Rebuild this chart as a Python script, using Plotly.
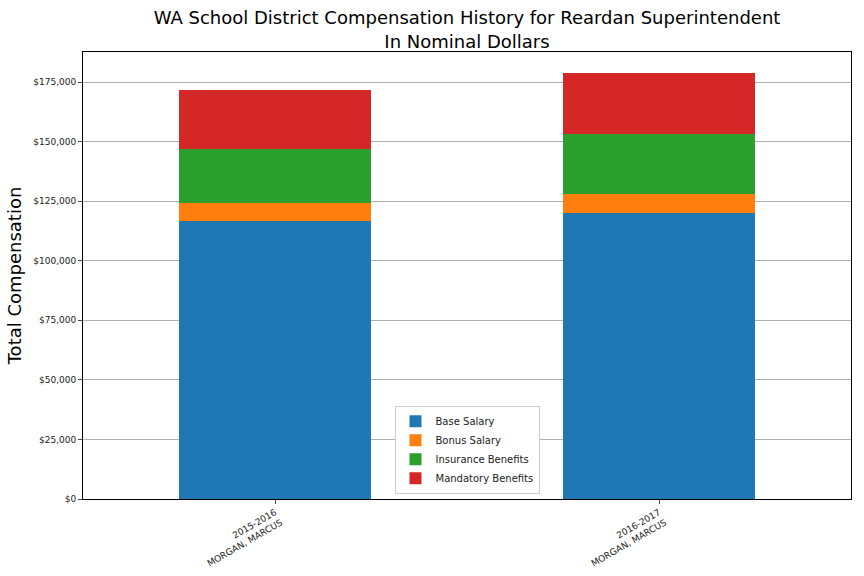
import plotly.graph_objects as go

categories = ["2015-2016<br>MORGAN, MARCUS", "2016-2017<br>MORGAN, MARCUS"]
base_salary = [116650, 120000]
bonus_salary = [7650, 8000]
insurance_benefits = [22600, 25150]
mandatory_benefits = [24700, 25600]
y_ticks = [0, 25000, 50000, 75000, 100000, 125000, 150000, 175000]
y_tick_labels = ["$0", "$25,000", "$50,000", "$75,000", "$100,000", "$125,000", "$150,000", "$175,000"]

series = [
    ("Base Salary", base_salary, "#1f77b4"),
    ("Bonus Salary", bonus_salary, "#ff7f0e"),
    ("Insurance Benefits", insurance_benefits, "#2ca02c"),
    ("Mandatory Benefits", mandatory_benefits, "#d62728"),
]

fig = go.Figure()
for name, vals, color in series:
    fig.add_trace(go.Bar(x=[0, 1], y=vals, name=name, marker=dict(color=color, line=dict(width=0)), width=0.5))

fig.update_layout(
    barmode="stack",
    width=864, height=576,
    margin=dict(l=83, r=13, t=52, b=77, autoexpand=False),
    paper_bgcolor="white", plot_bgcolor="white",
    font=dict(family="DejaVu Sans", color="#222222"),
    title=dict(text="WA School District Compensation History for Reardan Superintendent<br>In Nominal Dollars",
               x=0.5, xref="paper", xanchor="center", y=0.958, yanchor="middle", font=dict(size=18, color="black")),
    legend=dict(x=0.5, xanchor="center", y=0.012, yanchor="bottom", bgcolor="white",
                bordercolor="#cccccc", borderwidth=1, font=dict(size=10), traceorder="normal"),
    bargap=0,
)
fig.update_xaxes(range=[-0.5, 1.5], tickvals=[0, 1], ticktext=categories, tickangle=-30,
                 showline=True, linecolor="black", mirror=True, ticks="outside", ticklen=4,
                 tickfont=dict(size=9), showgrid=False, automargin=False)
fig.update_yaxes(range=[0, 187600], tickvals=y_ticks, ticktext=y_tick_labels,
                 showline=True, linecolor="black", mirror=True, ticks="outside", ticklen=4,
                 tickfont=dict(size=9), showgrid=True, gridcolor="#b0b0b0", gridwidth=1,
                 title=dict(text="Total Compensation", font=dict(size=18, color="black"), standoff=6),
                 zeroline=False, automargin=False)
fig.write_html("out.html", config={"displayModeBar": False},
               post_script="document.body.style.margin='0';document.body.style.overflow='hidden';")
